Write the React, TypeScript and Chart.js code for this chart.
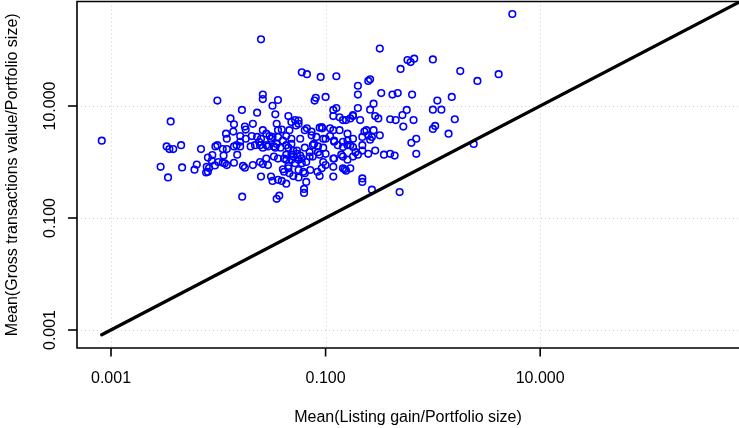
import React, { useEffect, useRef } from 'react';
import { Chart, registerables } from 'chart.js';

Chart.register(...registerables);

type Pt = [number, number];

// [mean listing gain / portfolio size, mean gross transactions value / portfolio size]
const smallGainPoints: Pt[] = [
  [0.00082, 2.4], [0.0098, 12.5], [0.0036, 5.3], [0.0033, 1.9], [0.0035, 1.7], [0.0038, 1.7],
  [0.0045, 2.0], [0.0069, 1.7], [0.0094, 1.9], [0.0098, 2.0], [0.0029, 0.82], [0.0034, 0.53],
  [0.0046, 0.8], [0.006, 0.73], [0.0063, 0.9], [0.008, 1.2], [0.0088, 1.33], [0.0087, 1.06],
  [0.0078, 0.82], [0.0082, 0.78], [0.0077, 0.65], [0.008, 0.67], [0.0093, 0.87], [0.01, 1.0],
];

const lowGainPoints: Pt[] = [
  [0.025, 155], [0.06, 40], [0.067, 37], [0.09, 33], [0.026, 16], [0.026, 13.3], [0.036, 12.8],
  [0.032, 10.1], [0.081, 14], [0.079, 12.5], [0.1, 14.5], [0.0166, 8.5], [0.023, 7.6], [0.034, 7.1],
  [0.013, 6], [0.014, 4.7], [0.0118, 3.2], [0.012, 2.6], [0.0138, 3.5], [0.0177, 4.3], [0.018, 3.8],
  [0.021, 4.8], [0.0205, 2.9], [0.018, 2.6], [0.016, 2.3], [0.0148, 2.0], [0.014, 1.9], [0.012, 1.7],
  [0.011, 1.7], [0.0112, 1.3], [0.011, 0.97], [0.012, 0.88], [0.017, 0.85], [0.0177, 0.79],
  [0.021, 0.88], [0.0245, 1.0], [0.026, 0.92], [0.029, 0.88], [0.025, 0.55], [0.031, 0.55],
  [0.032, 0.46], [0.036, 0.48], [0.039, 0.46], [0.043, 0.41], [0.04, 0.74], [0.041, 0.67],
  [0.046, 0.63], [0.05, 0.56], [0.056, 0.53], [0.063, 0.33], [0.063, 0.28], [0.066, 0.44],
  [0.062, 0.67], [0.072, 0.72], [0.084, 0.67], [0.088, 0.56], [0.0167, 0.24], [0.035, 0.22],
  [0.037, 0.25],
];

const coreGainPoints: Pt[] = [
  [0.028, 3.2], [0.03, 2.9], [0.032, 2.8], [0.035, 4.8], [0.036, 3.7], [0.039, 3.8], [0.045, 6.6],
  [0.048, 5.2], [0.052, 5.6], [0.056, 5.5], [0.053, 4.5], [0.046, 3.7], [0.043, 2.9], [0.04, 2.4],
  [0.035, 2.1], [0.033, 1.9], [0.038, 1.8], [0.043, 2.0], [0.048, 2.1], [0.05, 1.6], [0.054, 1.4],
  [0.058, 1.3], [0.056, 1.1], [0.06, 0.95], [0.066, 1.0], [0.064, 3.7], [0.067, 4.0], [0.074, 3.0],
  [0.082, 2.8], [0.092, 4.2], [0.078, 2.1], [0.085, 1.9], [0.071, 1.5], [0.076, 1.25], [0.088, 1.35],
  [0.1, 1.4], [0.095, 1.0], [0.1, 0.88], [0.028, 2.0], [0.026, 1.8], [0.024, 2.3], [0.022, 2.0],
  [0.02, 1.9], [0.016, 1.9], [0.015, 1.35], [0.014, 0.97], [0.0115, 0.95], [0.025, 2.6], [0.026, 3.7],
  [0.023, 2.8], [0.016, 2.9], [0.033, 1.25], [0.036, 1.15], [0.041, 1.15], [0.043, 1.35], [0.048, 1.1],
  [0.052, 0.95], [0.045, 0.85], [0.028, 1.15], [0.048, 1.35], [0.056, 4.8], [0.074, 3.5], [0.088, 4.1],
  [0.031, 2.6], [0.036, 2.8], [0.048, 2.6], [0.058, 2.6], [0.0245, 2.0], [0.029, 1.9], [0.034, 1.8],
  [0.045, 1.8], [0.054, 1.6], [0.064, 1.8], [0.076, 2.0], [0.085, 1.5], [0.095, 2.6], [0.05, 1.25],
  [0.06, 1.15], [0.071, 1.25], [0.043, 1.1], [0.045, 0.77], [0.056, 0.72], [0.064, 0.63],
];

const midGainPoints: Pt[] = [
  [0.32, 106], [0.58, 66], [0.62, 61], [0.67, 70], [1.0, 68], [0.5, 46], [0.126, 34], [0.26, 30],
  [0.25, 28], [0.2, 23], [0.2, 16], [0.33, 17], [0.42, 16], [0.47, 17], [0.64, 16], [1.1, 12.5],
  [0.28, 11], [0.26, 8.6], [0.2, 9.2], [0.126, 9.2], [0.118, 8.5], [0.18, 6.6], [0.17, 6], [0.21, 5.6],
  [0.135, 6.3], [0.145, 5.6], [0.118, 6.6], [0.29, 6.6], [0.31, 6], [0.4, 5.8], [0.45, 5.6], [0.52, 6.9],
  [0.57, 8.5], [0.53, 4.3], [0.66, 5.6], [1.0, 8.6], [1.2, 8.6], [1.0, 3.9], [1.05, 4.4], [0.7, 2.6],
  [0.63, 2.2], [0.7, 1.4], [0.24, 3.7], [0.28, 3.7], [0.25, 3.0], [0.27, 2.8], [0.32, 3.0], [0.26, 2.5],
  [0.22, 2.8], [0.18, 2.6], [0.16, 2.4], [0.118, 3.7], [0.11, 2.9], [0.12, 2.4], [0.13, 2.0],
  [0.145, 1.85], [0.16, 2.0], [0.18, 1.85], [0.22, 2.0], [0.22, 1.6], [0.25, 1.4], [0.29, 1.6],
  [0.35, 1.35], [0.4, 1.4], [0.44, 1.3], [0.18, 1.25], [0.2, 1.35], [0.145, 1.25], [0.12, 1.15],
  [0.118, 0.82], [0.15, 0.74], [0.17, 0.77], [0.155, 0.7], [0.118, 0.55], [0.22, 0.44], [0.27, 0.32],
  [0.49, 0.29], [0.155, 5.6], [0.18, 6.9], [0.093, 4.0], [0.11, 4.0], [0.135, 3.7], [0.16, 3.2],
  [0.23, 3.5], [0.1, 2.6], [0.12, 2.3], [0.145, 2.3], [0.17, 2.0], [0.19, 1.5], [0.095, 1.8],
  [0.118, 1.15], [0.14, 1.35], [0.16, 1.1], [0.145, 0.77], [0.22, 0.51], [0.092, 0.77],
];

const highGainPoints: Pt[] = [
  [5.5, 440], [1.8, 42], [2.6, 28], [4.1, 37], [1.5, 14.5], [1.6, 5.8], [1.4, 3.2], [2.4, 2.1],
];

const diagonalEnds = [0.00082, 1000];
const tickValues = [0.001, 0.1, 10];
const tickLabels = ['0.001', '0.100', '10.000'];
const xRange = [0.000482, 713];
const yRange = [0.000477, 735];
const xTitle = 'Mean(Listing gain/Portfolio size)';
const yTitle = 'Mean(Gross transactions value/Portfolio size)';

const FONT = '16px "Liberation Sans", Arial, Helvetica, sans-serif';

const rAxesPlugin = {
  id: 'rAxes',
  beforeDatasetsDraw(chart: any) {
    const { ctx, chartArea: a, scales } = chart;
    const xs = scales.x;
    const ys = scales.y;
    ctx.save();
    ctx.strokeStyle = '#cfcfcf';
    ctx.lineWidth = 1;
    ctx.setLineDash([1, 3]);
    for (const v of tickValues) {
      const px = Math.round(xs.getPixelForValue(v)) + 0.5;
      ctx.beginPath();
      ctx.moveTo(px, a.top);
      ctx.lineTo(px, a.bottom);
      ctx.stroke();
      const py = Math.round(ys.getPixelForValue(v)) + 0.5;
      ctx.beginPath();
      ctx.moveTo(a.left, py);
      ctx.lineTo(a.right + 2, py);
      ctx.stroke();
    }
    ctx.restore();
  },
  afterDraw(chart: any) {
    const { ctx, chartArea: a, scales } = chart;
    const xs = scales.x;
    const ys = scales.y;
    ctx.save();
    ctx.strokeStyle = '#000';
    ctx.lineWidth = 1.6;
    ctx.setLineDash([]);
    ctx.beginPath();
    ctx.moveTo(a.right + 4, a.top);
    ctx.lineTo(a.left, a.top);
    ctx.lineTo(a.left, a.bottom);
    ctx.lineTo(a.right + 4, a.bottom);
    ctx.stroke();

    ctx.fillStyle = '#000';
    ctx.font = FONT;
    tickValues.forEach((v, i) => {
      const px = xs.getPixelForValue(v);
      ctx.beginPath();
      ctx.moveTo(px, a.bottom);
      ctx.lineTo(px, a.bottom + 8.5);
      ctx.stroke();
      ctx.textAlign = 'center';
      ctx.textBaseline = 'alphabetic';
      ctx.fillText(tickLabels[i], px, a.bottom + 35);

      const py = ys.getPixelForValue(v);
      ctx.beginPath();
      ctx.moveTo(a.left - 9, py);
      ctx.lineTo(a.left, py);
      ctx.stroke();
      ctx.save();
      ctx.translate(55, py);
      ctx.rotate(-Math.PI / 2);
      ctx.fillText(tickLabels[i], 0, 0);
      ctx.restore();
    });

    ctx.textAlign = 'center';
    ctx.textBaseline = 'alphabetic';
    ctx.fillText(xTitle, (a.left + a.right) / 2, 421.7);
    ctx.save();
    ctx.translate(16.7, (a.top + a.bottom) / 2);
    ctx.rotate(-Math.PI / 2);
    ctx.fillText(yTitle, 0, 0);
    ctx.restore();
    ctx.restore();
  },
};

export default function App() {
  const ref = useRef<HTMLCanvasElement>(null);

  useEffect(() => {
    const points = [
      ...smallGainPoints,
      ...lowGainPoints,
      ...coreGainPoints,
      ...midGainPoints,
      ...highGainPoints,
    ].map(([x, y]) => ({ x, y }));
    const diagonal = diagonalEnds.map((v) => ({ x: v, y: v }));

    const chart = new Chart(ref.current as HTMLCanvasElement, {
      type: 'scatter',
      data: {
        datasets: [
          {
            type: 'line',
            data: diagonal,
            borderColor: '#000',
            borderWidth: 3.3,
            pointRadius: 0,
            fill: false,
            showLine: true,
            borderCapStyle: 'round',
          } as any,
          {
            data: points,
            pointStyle: 'circle',
            pointRadius: 3.3,
            pointBorderWidth: 1.6,
            borderColor: '#0000ff',
            pointBorderColor: '#0000ff',
            backgroundColor: 'rgba(0,0,0,0)',
            pointBackgroundColor: 'rgba(0,0,0,0)',
            showLine: false,
          } as any,
        ],
      },
      options: {
        responsive: false,
        animation: false,
        devicePixelRatio: 1,
        events: [],
        layout: { padding: { top: 1.5, right: 0, bottom: 0, left: 0 }, autoPadding: false },
        plugins: { legend: { display: false }, tooltip: { enabled: false } },
        scales: {
          x: {
            type: 'logarithmic',
            position: 'bottom',
            min: xRange[0],
            max: xRange[1],
            grid: { display: false },
            border: { display: false },
            ticks: { display: false },
            afterFit: (s: any) => {
              s.height = 80;
            },
          },
          y: {
            type: 'logarithmic',
            position: 'left',
            min: yRange[0],
            max: yRange[1],
            grid: { display: false },
            border: { display: false },
            ticks: { display: false },
            afterFit: (s: any) => {
              s.width = 77;
            },
          },
        },
      } as any,
      plugins: [rAxesPlugin],
    });
    return () => chart.destroy();
  }, []);

  return (
    <div style={{ position: 'absolute', left: 0, top: 0, width: 739, height: 428, background: '#fff' }}>
      <canvas ref={ref} width={739} height={428} style={{ display: 'block', width: 739, height: 428 }} />
    </div>
  );
}
